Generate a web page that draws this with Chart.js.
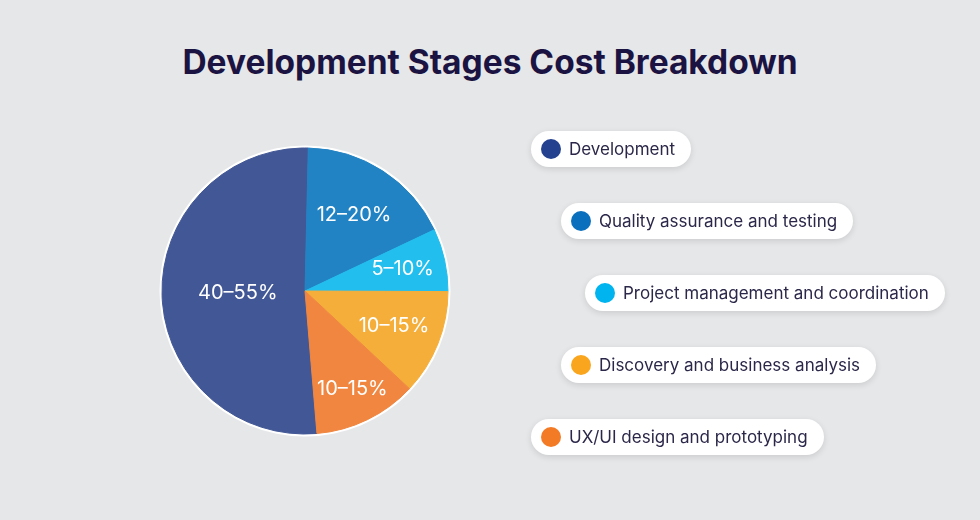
<!DOCTYPE html>
<html>
<head>
<meta charset="utf-8">
<script src="https://cdn.jsdelivr.net/npm/chart.js@4.4.1/dist/chart.umd.min.js"></script>
<style>
  html, body { margin: 0; padding: 0; }
  body { width: 980px; height: 520px; background: #e6e7e9; position: relative; overflow: hidden; font-family: "Inter", sans-serif; }
  #titulo { position: absolute; left: 0; top: 41px; width: 980px; text-align: center; margin: 0;
    font-size: 33.5px; font-weight: 700; color: #1b1442; line-height: 42px; }
  #lienzo { position: absolute; left: 0; top: 0; }
  .pastilla { position: absolute; height: 36px; background: #fff; border-radius: 18px; display: flex; align-items: center;
    padding: 0 16px 0 10px; box-shadow: 0 2px 6px rgba(0,0,0,0.12); box-sizing: border-box; }
  .punto { width: 20px; height: 20px; border-radius: 50%; margin-right: 8px; flex: none; }
  .texto { font-size: 17px; color: #2b2749; white-space: nowrap; }
</style>
</head>
<body>
<h1 id="titulo">Development Stages Cost Breakdown</h1>
<canvas id="lienzo" width="980" height="520"></canvas>
<div id="leyenda"></div>
<script>
// Datos del gráfico
const etapas = ['Development', 'Quality assurance and testing', 'Project management and coordination', 'Discovery and business analysis', 'UX/UI design and prototyping'];
const porcentajes = [51.7, 17.6, 7.1, 11.9, 11.7];
const etiquetasRango = ['40–55%', '12–20%', '5–10%', '10–15%', '10–15%'];
const coloresSector = ['#425795', '#2283c4', '#22bfee', '#f5ae3a', '#f08640'];
const coloresPunto = ['#23418f', '#0a6fbd', '#00b4ef', '#f9a61e', '#f47b25'];

// Leyenda en pastillas escalonadas
const leyenda = document.getElementById('leyenda');
const izquierdas = [531, 561, 585, 561, 531];
etapas.forEach((nombre, i) => {
  const p = document.createElement('div');
  p.className = 'pastilla';
  p.style.left = izquierdas[i] + 'px';
  p.style.top = (131 + i * 72) + 'px';
  p.innerHTML = `<span class="punto" style="background:${coloresPunto[i]}"></span><span class="texto">${nombre}</span>`;
  leyenda.appendChild(p);
});

// Aro blanco detrás del pastel
const aroBlanco = {
  id: 'aroBlanco',
  beforeDatasetsDraw(chart) {
    const arc = chart.getDatasetMeta(0).data[0];
    if (!arc) return;
    const ctx = chart.ctx;
    ctx.save();
    ctx.beginPath();
    ctx.arc(arc.x, arc.y, arc.outerRadius + 2.5, 0, Math.PI * 2);
    ctx.fillStyle = '#ffffff';
    ctx.fill();
    ctx.restore();
  }
};

// Etiquetas dentro de cada sector
const fracciones = [0.47, 0.63, 0.70, 0.67, 0.76];
const etiquetasSector = {
  id: 'etiquetasSector',
  afterDatasetsDraw(chart) {
    const ctx = chart.ctx;
    ctx.save();
    ctx.fillStyle = '#ffffff';
    ctx.font = '20px Inter';
    ctx.textAlign = 'center';
    ctx.textBaseline = 'middle';
    chart.getDatasetMeta(0).data.forEach((arc, i) => {
      const ang = (arc.startAngle + arc.endAngle) / 2;
      const r = arc.outerRadius * fracciones[i];
      ctx.fillText(etiquetasRango[i], arc.x + Math.cos(ang) * r, arc.y + Math.sin(ang) * r);
    });
    ctx.restore();
  }
};

new Chart(document.getElementById('lienzo'), {
  type: 'pie',
  data: {
    labels: etapas,
    datasets: [{
      data: porcentajes,
      backgroundColor: coloresSector,
      borderColor: coloresSector,
      borderWidth: 1,
      hoverOffset: 0,
      radius: 143
    }]
  },
  options: {
    responsive: false,
    animation: false,
    rotation: 175.2,
    layout: { padding: { left: 0, right: 370, top: 62, bottom: 0 } },
    plugins: {
      legend: { display: false },
      tooltip: { enabled: false }
    },
    events: []
  },
  plugins: [aroBlanco, etiquetasSector]
});
</script>
</body>
</html>
